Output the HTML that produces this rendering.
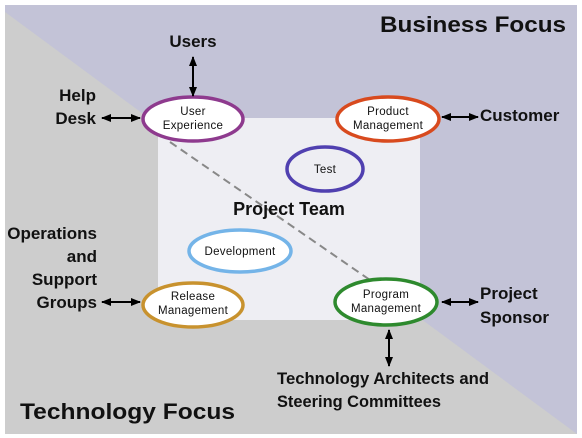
<!DOCTYPE html>
<html><head><meta charset="utf-8"><style>
html,body{margin:0;padding:0;background:#fff;}
svg{display:block;}
text{font-family:"Liberation Sans",sans-serif;fill:#111;}
.l{font-weight:bold;font-size:17px;}
.e{font-size:11.5px;letter-spacing:0.3px;}
</style></head><body>
<svg width="582" height="438" viewBox="0 0 582 438">
<defs>
<marker id="a" viewBox="0 0 10 10" refX="9" refY="5" markerWidth="5" markerHeight="5" orient="auto-start-reverse"><path d="M0,1 L10,5 L0,9 z" fill="#000"/></marker>
</defs>
<rect x="5" y="5" width="572" height="429" fill="#cdcdcd"/>
<polygon points="5,12 5,5 577,5 577,434" fill="#c3c3d7"/>
<rect x="158" y="118" width="262" height="202" fill="#eeeef3"/>
<line x1="170" y1="142" x2="370" y2="280" stroke="#888" stroke-width="2" stroke-dasharray="8,5"/>
<g fill="none" stroke-width="3.5">
<ellipse cx="193" cy="119" rx="50" ry="22" fill="#fff" stroke="#8e3a8e"/>
<ellipse cx="388" cy="119" rx="51" ry="22" fill="#fff" stroke="#d84a1e"/>
<ellipse cx="325" cy="169" rx="38" ry="22" stroke="#5040b0"/>
<ellipse cx="240" cy="251" rx="51" ry="21" fill="#fff" stroke="#74b4e8"/>
<ellipse cx="193" cy="305" rx="50" ry="22" fill="#fff" stroke="#c8922e"/>
<ellipse cx="386" cy="302" rx="51" ry="23" fill="#fff" stroke="#2e8a2e"/>
</g>
<g stroke="#000" stroke-width="2" marker-start="url(#a)" marker-end="url(#a)">
<line x1="193" y1="57" x2="193" y2="96"/>
<line x1="102" y1="118" x2="140" y2="118"/>
<line x1="442" y1="117" x2="478" y2="117"/>
<line x1="102" y1="302" x2="140" y2="302"/>
<line x1="442" y1="302" x2="478" y2="302"/>
<line x1="389" y1="330" x2="389" y2="366"/>
</g>
<g text-anchor="middle" class="e">
<text x="193" y="115">User</text><text x="193" y="129">Experience</text>
<text x="388" y="115">Product</text><text x="388" y="129">Management</text>
<text x="325" y="173">Test</text>
<text x="240" y="255">Development</text>
<text x="193" y="300">Release</text><text x="193" y="314">Management</text>
<text x="386" y="298">Program</text><text x="386" y="312">Management</text>
</g>
<text x="380" y="32" font-weight="bold" font-size="22" textLength="186" lengthAdjust="spacingAndGlyphs">Business Focus</text>
<text x="20" y="419" font-size="22" font-weight="bold" textLength="215" lengthAdjust="spacingAndGlyphs">Technology Focus</text>
<text x="289" y="215" text-anchor="middle" font-weight="bold" font-size="18">Project Team</text>
<g class="l">
<text x="193" y="47" text-anchor="middle">Users</text>
<text x="96" y="101" text-anchor="end">Help</text>
<text x="96" y="124" text-anchor="end">Desk</text>
<text x="480" y="121">Customer</text>
<text x="97" y="239" text-anchor="end">Operations</text>
<text x="97" y="262" text-anchor="end">and</text>
<text x="97" y="285" text-anchor="end">Support</text>
<text x="97" y="308" text-anchor="end">Groups</text>
<text x="480" y="299">Project</text>
<text x="480" y="323">Sponsor</text>
<text x="277" y="384" textLength="212" lengthAdjust="spacingAndGlyphs">Technology Architects and</text>
<text x="277" y="407" textLength="164" lengthAdjust="spacingAndGlyphs">Steering Committees</text>
</g>
</svg>
</body></html>
